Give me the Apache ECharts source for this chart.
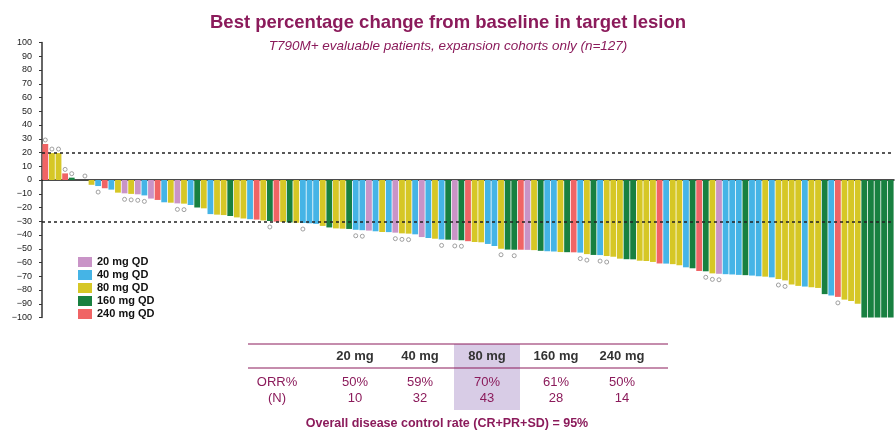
<!DOCTYPE html>
<html>
<head>
<meta charset="utf-8">
<script src="https://cdn.jsdelivr.net/npm/echarts@6/dist/echarts.min.js"></script>
<style>
  html, body { margin: 0; padding: 0; background: #ffffff; }
  #chart { width: 896px; height: 431px; }
</style>
</head>
<body>
<div id="chart"></div>
<script>
// Dose cohorts shown in the legend and their bar colours
const doseGroups = ['20 mg QD', '40 mg QD', '80 mg QD', '160 mg QD', '240 mg QD'];
const doseColors = ['#c994c7', '#45b4e6', '#d6c726', '#188040', '#f06465'];

// Cohort of each patient (index into doseGroups), ordered by best response
const patientDose = [
  4, 2, 2, 4, 3, 2, 1, 2, 1, 4,
  1, 2, 0, 2, 0, 1, 0, 4, 1, 2,
  0, 2, 1, 3, 2, 1, 2, 2, 3, 2,
  2, 1, 4, 2, 3, 4, 2, 3, 2, 1,
  1, 1, 2, 3, 2, 2, 3, 1, 1, 0,
  1, 2, 1, 0, 2, 2, 1, 0, 1, 2,
  1, 3, 0, 3, 4, 2, 2, 1, 1, 2,
  3, 3, 4, 0, 2, 3, 1, 1, 2, 3,
  4, 1, 2, 3, 1, 2, 2, 2, 3, 3,
  2, 2, 2, 4, 1, 2, 2, 1, 3, 4,
  3, 2, 0, 1, 1, 1, 3, 1, 1, 2,
  1, 2, 2, 2, 2, 1, 2, 2, 3, 1,
  4, 2, 2, 2, 3, 3, 3, 3, 3
];

// Best percentage change from baseline in target lesion size
const bestChange = [
  26.2, 19.6, 19.6, 4.8, 1.7, 0, 0, -3.5, -4.4, -6,
  -7, -9.2, -9.7, -10.1, -10.4, -11.2, -13.5, -14.5, -16.2, -16.5,
  -17, -17.2, -18.2, -20, -20.6, -24.8, -25.2, -25.5, -26.2, -27.2,
  -28, -28.5, -28.8, -29.4, -29.8, -30.3, -30.5, -30.9, -31.1, -31.3,
  -31.5, -31.9, -33.4, -34.5, -35.2, -35.4, -35.6, -36.2, -36.5, -36.8,
  -37.3, -37.8, -37.9, -38.3, -38.8, -39, -39.5, -41.5, -42.2, -42.7,
  -43.2, -43.4, -43.6, -43.8, -44.5, -45.1, -45.3, -46.5, -48, -50,
  -50.6, -50.7, -50.7, -50.8, -51, -51.5, -51.8, -52, -52.4, -52.5,
  -52.6, -52.8, -53.9, -54.5, -54.6, -55.3, -55.8, -57.2, -57.6, -57.7,
  -58.7, -58.9, -59.6, -60.7, -60.8, -61.2, -62, -63.5, -64.2, -66.2,
  -66.4, -67.9, -68.2, -68.5, -68.7, -69, -69.2, -69.5, -70, -70.3,
  -70.8, -72, -73, -76, -77, -77.5, -78, -78.5, -83, -84,
  -85, -87, -88, -90, -100, -100, -100, -100, -100
];

// Patients carrying an open-circle annotation at the end of their bar
const circledPatients = [0, 1, 2, 3, 4, 6, 8, 12, 13, 14, 15, 20, 21, 34, 39, 47, 48,
  53, 54, 55, 60, 62, 63, 69, 71, 81, 82, 84, 85, 100, 101, 102, 111, 112, 120];

// Reference thresholds (progression / partial response)
const thresholds = [20, -30];

// Response summary table
const tableDoses = ['20 mg', '40 mg', '80 mg', '160 mg', '240 mg'];
const orrPercent = [50, 59, 70, 61, 50];
const orrCount = [10, 32, 43, 28, 14];
const diseaseControlRate = 95;

const purple = '#8b1b5b';
const categories = bestChange.map((_, i) => 'P' + (i + 1));

const barSeries = doseGroups.map((name, g) => ({
  name: name,
  type: 'bar',
  stack: 'patients',
  barCategoryGap: '12%',
  itemStyle: { color: doseColors[g] },
  data: bestChange.map((v, i) => (patientDose[i] === g ? v : '-')),
  z: 2
}));

barSeries[0].markLine = {
  silent: true,
  symbol: 'none',
  label: { show: false },
  lineStyle: { color: '#222', type: [3, 3], width: 1.5 },
  data: thresholds.map(t => ({ yAxis: t }))
};

const circleSeries = {
  type: 'scatter',
  symbol: 'circle',
  symbolSize: 4,
  silent: true,
  z: 3,
  itemStyle: { color: '#ffffff', borderColor: '#8a8a8a', borderWidth: 1 },
  data: circledPatients.map(i => ({
    value: [i, bestChange[i]],
    symbolOffset: [0, bestChange[i] >= 0 ? -4 : 6]
  }))
};

// Table geometry
const colX = [355, 420, 487, 556, 622];
const tableGraphics = [
  { type: 'rect', shape: { x: 454, y: 344, width: 66, height: 66 }, style: { fill: '#d8cce6' } },
  { type: 'line', shape: { x1: 248, y1: 344, x2: 668, y2: 344 }, style: { stroke: purple, lineWidth: 1 } },
  { type: 'line', shape: { x1: 248, y1: 368, x2: 668, y2: 368 }, style: { stroke: purple, lineWidth: 1 } },
  { type: 'text', x: 277, y: 382, style: { text: 'ORR%', font: '13px "Liberation Sans", Arial, sans-serif', fill: purple, align: 'center', verticalAlign: 'middle' } },
  { type: 'text', x: 277, y: 398, style: { text: '(N)', font: '13px "Liberation Sans", Arial, sans-serif', fill: purple, align: 'center', verticalAlign: 'middle' } },
  { type: 'text', x: 447, y: 424, style: { text: 'Overall disease control rate (CR+PR+SD) = ' + diseaseControlRate + '%', font: 'bold 12.5px "Liberation Sans", Arial, sans-serif', fill: purple, align: 'center', verticalAlign: 'middle' } }
];
tableDoses.forEach((d, i) => {
  tableGraphics.push(
    { type: 'text', x: colX[i], y: 356, style: { text: d, font: 'bold 13px "Liberation Sans", Arial, sans-serif', fill: '#333', align: 'center', verticalAlign: 'middle' } },
    { type: 'text', x: colX[i], y: 382, style: { text: orrPercent[i] + '%', font: '13px "Liberation Sans", Arial, sans-serif', fill: purple, align: 'center', verticalAlign: 'middle' } },
    { type: 'text', x: colX[i], y: 398, style: { text: String(orrCount[i]), font: '13px "Liberation Sans", Arial, sans-serif', fill: purple, align: 'center', verticalAlign: 'middle' } }
  );
});

const chart = echarts.init(document.getElementById('chart'), null, { renderer: 'canvas' });
chart.setOption({
  animation: false,
  title: {
    text: 'Best percentage change from baseline in target lesion',
    subtext: 'T790M+ evaluable patients, expansion cohorts only (n=127)',
    left: 'center',
    top: 8,
    itemGap: 7,
    textStyle: { color: purple, fontSize: 18.5, fontWeight: 'bold', fontFamily: '"Liberation Sans", Arial, sans-serif' },
    subtextStyle: { color: purple, fontSize: 13.5, fontStyle: 'italic', fontFamily: '"Liberation Sans", Arial, sans-serif' }
  },
  legend: {
    data: doseGroups,
    orient: 'vertical',
    left: 78,
    top: 256,
    padding: 0,
    itemWidth: 14,
    itemHeight: 10,
    itemGap: 1,
    icon: 'rect',
    selectedMode: false,
    textStyle: { fontSize: 11, lineHeight: 12, fontWeight: 'bold', color: '#111', fontFamily: '"Liberation Sans", Arial, sans-serif' }
  },
  grid: { left: 42, right: 2, top: 42.5, bottom: 113.5 },
  xAxis: {
    type: 'category',
    data: categories,
    axisLine: { onZero: true, lineStyle: { color: '#111', width: 1.5 } },
    axisTick: { show: false },
    axisLabel: { show: false }
  },
  yAxis: {
    type: 'value',
    min: -100,
    max: 100,
    interval: 10,
    axisLine: { show: true, lineStyle: { color: '#333', width: 1.5 } },
    axisTick: { show: true, length: 3, lineStyle: { color: '#333' } },
    splitLine: { show: false },
    axisLabel: {
      fontSize: 9,
      color: '#222',
      margin: 10,
      fontFamily: '"Liberation Sans", Arial, sans-serif',
      formatter: v => String(v).replace('-', '\u2212')
    }
  },
  graphic: tableGraphics,
  series: barSeries.concat([circleSeries])
});
</script>
</body>
</html>
